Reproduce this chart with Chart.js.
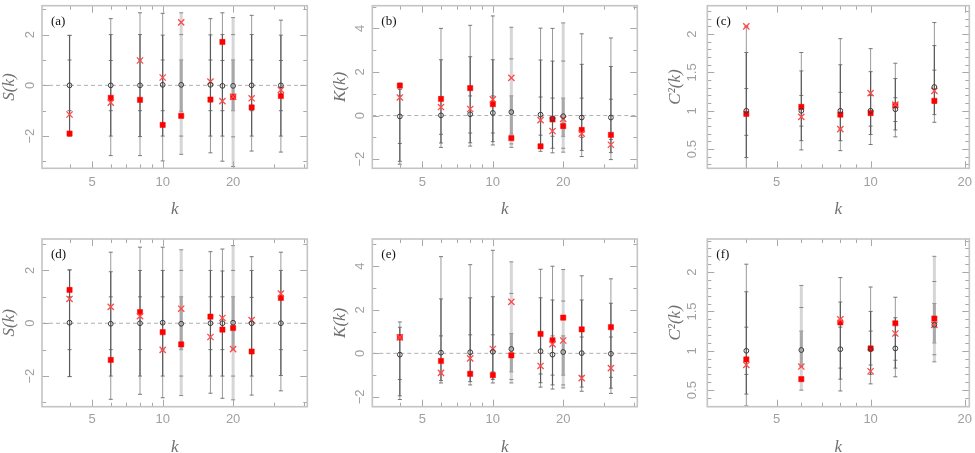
<!DOCTYPE html>
<html>
<head>
<meta charset="utf-8">
<script src="https://cdn.jsdelivr.net/npm/chart.js@4.4.1/dist/chart.umd.min.js"></script>
<style>
  html, body { margin: 0; padding: 0; background: #fff; }
  #wrap { position: relative; width: 975px; height: 453px; }
  canvas { position: absolute; }
</style>
</head>
<body>
<div id="wrap">
  <canvas id="pa" width="325" height="226" style="left:0;top:0"></canvas>
  <canvas id="pb" width="325" height="226" style="left:325px;top:0"></canvas>
  <canvas id="pc" width="325" height="226" style="left:650px;top:0"></canvas>
  <canvas id="pd" width="325" height="227" style="left:0;top:226px"></canvas>
  <canvas id="pe" width="325" height="227" style="left:325px;top:226px"></canvas>
  <canvas id="pf" width="325" height="227" style="left:650px;top:226px"></canvas>
</div>
<script>
// k values
const kS = [4, 6, 8, 10, 12, 16, 18, 20, 24, 32];
const kC = [4, 6, 8, 10, 12, 16];

// (a) S(k)
const meanA = [0.0, 0.0, 0.0, 0.02, 0.02, 0.02, -0.02, -0.02, 0.0, 0.0];
const obsA  = [-1.90, -0.49, -0.57, -1.56, -1.20, -0.56, 1.71, -0.45, -0.87, -0.42];
const altA  = [-1.15, -0.68, 0.98, 0.31, 2.48, 0.15, -0.62, -0.45, -0.51, -0.18];
const hiA   = [1.97, 2.63, 2.86, 2.84, 2.86, 2.63, 2.86, 2.67, 2.76, 2.57];
const hi2A  = [1.97, 2.0, 2.0, 1.98, 2.0, 1.99, 2.0, 2.0, 2.0, 1.98];
const hi1A  = [1.0, 0.98, 1.0, 1.0, 1.0, 1.0, 0.98, 1.0, 1.0, 0.98];
const lo1A  = [-1.0, -1.0, -1.0, -1.0, -1.02, -1.0, -1.0, -1.0, -1.0, -1.0];
const lo2A  = [-1.99, -2.0, -2.02, -2.0, -2.0, -2.0, -2.0, -2.03, -2.0, -2.0];
const loA   = [-1.99, -2.77, -2.77, -2.98, -2.72, -2.66, -2.99, -3.2, -2.59, -2.63];

// (b) K(k)
const meanB = [-0.04, 0.01, 0.06, 0.12, 0.16, 0.04, -0.13, -0.03, -0.09, -0.09];
const obsB  = [1.37, 0.76, 1.26, 0.52, -1.04, -1.41, -0.18, -0.48, -0.66, -0.89];
const altB  = [0.83, 0.39, 0.30, 0.74, 1.73, -0.21, -0.71, -0.15, -0.83, -1.34];
const hiB   = [1.49, 4.0, 4.14, 4.57, 4.05, 4.01, 4.0, 4.25, 3.75, 3.56];
const hi2B  = [1.2, 2.56, 2.7, 2.56, 2.6, 2.55, 2.5, 2.5, 2.35, 2.25];
const hi1B  = [0.9, 0.85, 0.9, 0.9, 0.9, 0.85, 0.8, 0.8, 0.8, 0.75];
const lo1B  = [-1.28, -0.86, -0.8, -0.8, -0.85, -0.9, -0.95, -0.95, -1.0, -1.1];
const lo2B  = [-2.1, -1.26, -1.25, -1.2, -1.3, -1.45, -1.5, -1.5, -1.6, -1.7];
const loB   = [-2.23, -1.46, -1.40, -1.35, -1.46, -1.64, -1.71, -1.68, -1.88, -2.02];

// (c) C^2(k)
const meanC = [1.0, 1.0, 1.0, 1.0, 1.02, 1.31];
const obsC  = [0.96, 1.05, 0.95, 0.97, 1.07, 1.13];
const altC  = [2.10, 0.92, 0.76, 1.23, 1.08, 1.26];
const hiC   = [2.10, 1.76, 1.94, 1.81, 1.62, 2.15];
const hi2C  = [1.76, 1.52, 1.6, 1.51, 1.42, 1.85];
const hi1C  = [1.29, 1.2, 1.24, 1.2, 1.17, 1.53];
const lo1C  = [0.68, 0.80, 0.76, 0.8, 0.86, 1.1];
const lo2C  = [0.39, 0.61, 0.61, 0.69, 0.75, 0.95];
const loC   = [0.2, 0.49, 0.48, 0.56, 0.66, 0.85];

// (d) S(k)
const meanD = [0.02, -0.02, 0.0, 0.02, -0.02, 0.0, 0.0, 0.02, 0.0, 0.0];
const obsD  = [1.26, -1.39, 0.42, -0.34, -0.80, 0.25, -0.24, -0.18, -1.07, 0.96];
const altD  = [0.92, 0.62, 0.27, -1.01, 0.55, -0.52, 0.20, -0.98, 0.12, 1.12];
const hiD   = [2.02, 2.69, 2.88, 2.88, 2.78, 2.71, 2.81, 2.94, 2.52, 2.69];
const hi2D  = [2.02, 1.95, 2.0, 2.0, 2.0, 2.0, 1.98, 2.0, 2.0, 2.0];
const hi1D  = [1.0, 1.0, 1.0, 1.0, 1.0, 1.0, 1.0, 1.0, 0.98, 1.0];
const lo1D  = [-1.0, -1.0, -1.0, -1.0, -1.0, -1.0, -1.0, -1.0, -1.0, -1.0];
const lo2D  = [-2.02, -2.0, -2.0, -2.0, -2.0, -2.0, -2.0, -2.0, -2.0, -1.98];
const loD   = [-2.02, -2.88, -2.69, -2.82, -2.74, -2.65, -2.84, -2.9, -2.72, -2.56];

// (e) K(k)
const meanE = [-0.06, 0.03, 0.05, 0.07, 0.2, 0.1, -0.06, 0.06, 0.01, -0.02];
const obsE  = [0.73, -0.35, -0.94, -1.0, -0.09, 0.89, 0.6, 1.64, 1.1, 1.2];
const altE  = [0.73, -0.9, -0.23, 0.2, 2.36, -0.58, 0.42, 0.59, -1.14, -0.68];
const hiE   = [1.44, 4.44, 4.07, 4.73, 4.2, 3.86, 4.0, 3.85, 3.56, 3.42];
const hi2E  = [1.2, 2.5, 2.55, 2.6, 2.75, 2.55, 2.45, 2.4, 2.45, 2.3];
const hi1E  = [0.85, 0.8, 0.85, 0.85, 0.9, 0.85, 0.8, 0.8, 0.75, 0.75];
const lo1E  = [-1.2, -0.9, -0.85, -0.85, -0.85, -0.95, -1.0, -1.0, -1.05, -1.1];
const lo2E  = [-1.95, -1.25, -1.3, -1.2, -1.2, -1.35, -1.45, -1.45, -1.55, -1.6];
const loE   = [-2.12, -1.36, -1.45, -1.36, -1.36, -1.55, -1.64, -1.59, -1.74, -1.84];

// (f) C^2(k)
const meanF = [1.0, 1.01, 1.02, 1.02, 1.03, 1.33];
const obsF  = [0.89, 0.64, 1.36, 1.03, 1.35, 1.41];
const altF  = [0.82, 0.80, 1.40, 0.74, 1.22, 1.33];
const hiF   = [2.10, 1.83, 1.93, 1.81, 1.68, 2.2];
const hi2F  = [1.75, 1.55, 1.62, 1.5, 1.42, 1.88];
const hi1F  = [1.3, 1.25, 1.3, 1.25, 1.2, 1.6];
const lo1F  = [0.7, 0.8, 0.78, 0.82, 0.88, 1.1];
const lo2F  = [0.45, 0.62, 0.64, 0.7, 0.78, 0.95];
const loF   = [0.3, 0.5, 0.49, 0.58, 0.67, 0.86];

// axis tick labels
const xTickLabels = [5, 10, 20];
const xMinorTicks = [3, 4, 5, 6, 7, 8, 9, 10, 20, 30, 40];
const yLabelsS = [-2, 0, 2];
const yLabelsK = [-2, 0, 2, 4];
const yLabelsC = [0.5, 1, 1.5, 2];

const axisPlugin = {
  id: 'axisFrame',
  beforeDatasetsDraw(chart, args, o) {
    const { ctx, chartArea: a, scales: { y } } = chart;
    if (o.zero) {
      const py = y.getPixelForValue(0);
      ctx.save();
      ctx.strokeStyle = '#b0b0b0';
      ctx.lineWidth = 1;
      ctx.setLineDash([4, 3]);
      ctx.beginPath();
      ctx.moveTo(a.left, py);
      ctx.lineTo(a.right, py);
      ctx.stroke();
      ctx.restore();
    }
  },
  afterDraw(chart, args, o) {
    const { ctx, chartArea: a, scales: { x, y } } = chart;
    ctx.save();
    // inward ticks on all four sides
    ctx.strokeStyle = '#a8a8a8';
    ctx.lineWidth = 1;
    ctx.beginPath();
    xMinorTicks.forEach(v => {
      if (v <= x.min || v >= x.max) return;
      const px = Math.round(x.getPixelForValue(v)) + 0.5;
      const len = xTickLabels.includes(v) ? 7 : 4;
      ctx.moveTo(px, a.bottom); ctx.lineTo(px, a.bottom - len);
      ctx.moveTo(px, a.top); ctx.lineTo(px, a.top + len);
    });
    const n0 = Math.ceil(y.min / o.yMinor - 1e-6);
    const n1 = Math.floor(y.max / o.yMinor + 1e-6);
    for (let n = n0; n <= n1; n++) {
      const v = n * o.yMinor;
      const py = Math.round(y.getPixelForValue(v)) + 0.5;
      const major = Math.abs(v / o.yMajor - Math.round(v / o.yMajor)) < 1e-6;
      const len = major ? 7 : 4;
      ctx.moveTo(a.left, py); ctx.lineTo(a.left + len, py);
      ctx.moveTo(a.right, py); ctx.lineTo(a.right - len, py);
    }
    ctx.stroke();
    // frame
    ctx.strokeStyle = '#c4c4c4';
    ctx.lineWidth = 1.6;
    ctx.strokeRect(a.left, a.top, a.right - a.left, a.bottom - a.top);

    // x labels
    ctx.fillStyle = '#a0a0a0';
    ctx.font = '13px "Liberation Sans", Arial, sans-serif';
    ctx.textAlign = 'center';
    ctx.textBaseline = 'middle';
    xTickLabels.forEach(v => {
      if (v < x.min || v > x.max) return;
      ctx.fillText(String(v), x.getPixelForValue(v), a.bottom + o.xLabGap);
    });
    // y labels (rotated)
    o.yLabels.forEach(v => {
      const py = y.getPixelForValue(v);
      ctx.save();
      ctx.translate(a.left - o.yLabGap, py);
      ctx.rotate(-Math.PI / 2);
      ctx.fillText(v < 0 ? '\u2212' + Math.abs(v) : String(v), 0, 0);
      ctx.restore();
    });
    // axis titles
    ctx.fillStyle = '#707070';
    ctx.font = 'italic 17px "Liberation Serif", "DejaVu Serif", serif';
    ctx.fillText('k', (a.left + a.right) / 2, a.bottom + 41);
    ctx.save();
    ctx.translate(a.left - 32, (a.top + a.bottom) / 2);
    ctx.rotate(-Math.PI / 2);
    ctx.fillText(o.title, 0, 0);
    ctx.restore();
    // panel label
    ctx.fillStyle = '#111';
    ctx.font = '13px "Liberation Serif", "DejaVu Serif", serif';
    ctx.textAlign = 'left';
    ctx.fillText(o.label, a.left + 9, a.top + 16);
    ctx.restore();
  }
};

// vertical segments through the given levels, one per k, split by null gaps
function rangeLine(ks, levels, pick) {
  const out = [];
  ks.forEach((k, i) => {
    if (!pick(k)) return;
    levels.forEach(arr => out.push({ x: k, y: arr[i] }));
    out.push({ x: k, y: null });
  });
  return out;
}

function makePanel(id, p) {
  const ks = p.k;
  const isShade = k => p.shade.includes(k);
  const notShade = k => !p.shade.includes(k);
  const pts = arr => ks.map((k, i) => ({ x: k, y: arr[i] }));
  const datasets = [
    { data: pts(p.mean), pointStyle: 'circle', pointRadius: 2.4, pointBorderWidth: 1,
      pointBorderColor: '#3a3a3a', pointBackgroundColor: 'rgba(0,0,0,0)', showLine: false },
    { data: pts(p.alt), pointStyle: 'crossRot', pointRadius: 4.4, pointBorderWidth: 1.3,
      pointBorderColor: '#ff4a4a', pointBackgroundColor: '#ff4a4a', showLine: false },
    { data: pts(p.obs), pointStyle: 'rect', pointRadius: 3.7, pointBorderWidth: 0.5,
      pointBorderColor: '#ff0000', pointBackgroundColor: '#ff0000', showLine: false },
    // inner parts of bars
    { data: rangeLine(ks, [p.lo2, p.hi2], notShade), showLine: true, borderColor: '#5a5a5a',
      borderWidth: 1.2, pointRadius: 0, spanGaps: false },
    { data: rangeLine(ks, [p.lo1, p.hi1], isShade), showLine: true, borderColor: '#a8a8a8',
      borderWidth: 3, pointRadius: 0, spanGaps: false },
    // outer parts with tick marks
    { data: rangeLine(ks, [p.lo, p.lo2, p.lo1, p.hi1, p.hi2, p.hi], notShade), showLine: true,
      borderColor: '#9a9a9a', borderWidth: 1, pointStyle: 'line', pointRadius: 2,
      pointBorderWidth: 1, pointBorderColor: '#777', spanGaps: false },
    { data: rangeLine(ks, [p.lo, p.lo2, p.lo1, p.hi1, p.hi2, p.hi], isShade), showLine: true,
      borderColor: '#d6d6d6', borderWidth: 3, pointStyle: 'line', pointRadius: 2,
      pointBorderWidth: 1, pointBorderColor: '#888', spanGaps: false }
  ];
  return new Chart(document.getElementById(id), {
    type: 'scatter',
    data: { datasets },
    options: {
      responsive: false,
      animation: false,
      events: [],
      layout: { padding: p.pad },
      scales: {
        x: { type: 'logarithmic', min: p.xMin, max: p.xMax, display: false },
        y: { type: 'linear', min: p.yMin, max: p.yMax, display: false }
      },
      plugins: {
        legend: { display: false },
        tooltip: { enabled: false },
        axisFrame: {
          zero: p.zero, yMinor: p.yMinor, yMajor: p.yMajor, yLabels: p.yLabels,
          title: p.title, label: p.label, yLabGap: p.yLabGap, xLabGap: p.xLabGap
        }
      }
    },
    plugins: [axisPlugin]
  });
}

const padTopRow = { top: 1, bottom: 57.7 };
const padBotRow = { top: 13, bottom: 46.3 };

makePanel('pa', { k: kS, mean: meanA, obs: obsA, alt: altA, hi: hiA, hi2: hi2A, hi1: hi1A, lo1: lo1A, lo2: lo2A, lo: loA,
  shade: [12, 20], zero: true, xMin: 3.05, xMax: 41.5, yMin: -3.27, yMax: 3.14, yMinor: 1, yMajor: 2,
  yLabels: yLabelsS, title: 'S(k)', label: '(a)', yLabGap: 12, xLabGap: 14.4,
  pad: { left: 42, right: 17.7, ...padTopRow } });
makePanel('pb', { k: kS, mean: meanB, obs: obsB, alt: altB, hi: hiB, hi2: hi2B, hi1: hi1B, lo1: lo1B, lo2: lo2B, lo: loB,
  shade: [12, 20], zero: true, xMin: 3.05, xMax: 41.5, yMin: -2.42, yMax: 5.04, yMinor: 1, yMajor: 2,
  yLabels: yLabelsK, title: 'K(k)', label: '(b)', yLabGap: 12, xLabGap: 14.4,
  pad: { left: 47.3, right: 12.7, ...padTopRow } });
makePanel('pc', { k: kC, mean: meanC, obs: obsC, alt: altC, hi: hiC, hi2: hi2C, hi1: hi1C, lo1: lo1C, lo2: lo2C, lo: loC,
  shade: [], zero: false, xMin: 3.0, xMax: 20.7, yMin: 0.25, yMax: 2.37, yMinor: 0.1, yMajor: 0.5,
  yLabels: yLabelsC, title: 'C\u00B2(k)', label: '(c)', yLabGap: 15, xLabGap: 14.4,
  pad: { left: 57.3, right: 2.3, ...padTopRow } });
makePanel('pd', { k: kS, mean: meanD, obs: obsD, alt: altD, hi: hiD, hi2: hi2D, hi1: hi1D, lo1: lo1D, lo2: lo2D, lo: loD,
  shade: [12, 20], zero: true, xMin: 3.05, xMax: 41.5, yMin: -3.16, yMax: 3.19, yMinor: 1, yMajor: 2,
  yLabels: yLabelsS, title: 'S(k)', label: '(d)', yLabGap: 12, xLabGap: 13,
  pad: { left: 42, right: 17.7, ...padBotRow } });
makePanel('pe', { k: kS, mean: meanE, obs: obsE, alt: altE, hi: hiE, hi2: hi2E, hi1: hi1E, lo1: lo1E, lo2: lo2E, lo: loE,
  shade: [12, 20], zero: true, xMin: 3.05, xMax: 41.5, yMin: -2.45, yMax: 5.25, yMinor: 1, yMajor: 2,
  yLabels: yLabelsK, title: 'K(k)', label: '(e)', yLabGap: 12, xLabGap: 13,
  pad: { left: 47.3, right: 12.7, ...padBotRow } });
makePanel('pf', { k: kC, mean: meanF, obs: obsF, alt: altF, hi: hiF, hi2: hi2F, hi1: hi1F, lo1: lo1F, lo2: lo2F, lo: loF,
  shade: [6, 16], zero: false, xMin: 3.0, xMax: 20.7, yMin: 0.29, yMax: 2.42, yMinor: 0.1, yMajor: 0.5,
  yLabels: yLabelsC, title: 'C\u00B2(k)', label: '(f)', yLabGap: 15, xLabGap: 13,
  pad: { left: 57.3, right: 2.3, ...padBotRow } });
</script>
</body>
</html>
